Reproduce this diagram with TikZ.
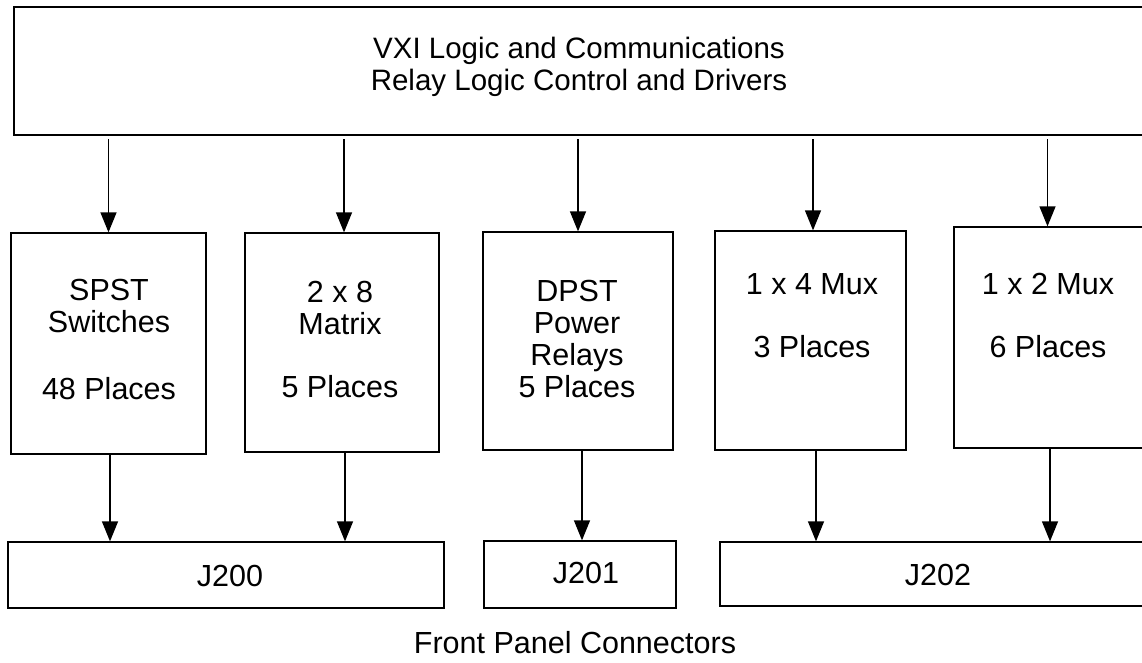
\documentclass[tikz,border=0pt]{standalone}
\usepackage{fontspec}
\setmainfont{Liberation Sans}
\usetikzlibrary{arrows.meta}
\begin{document}
\begin{tikzpicture}[x=1pt,y=-1pt,
  box/.style={draw, line width=1.3pt, inner sep=0pt},
  txt/.style={font=\fontsize{30.5}{32}\selectfont, align=center, inner sep=0pt},
  arr/.style={line width=1.3pt, -{Triangle[length=20pt,width=16pt]}}]
\useasboundingbox (0,0) rectangle (1142,662);
% boxes
\node[box, minimum width=1134pt, minimum height=128pt] (top) at (581,71) {};
\node[box, minimum width=195pt, minimum height=221pt] (spst) at (108.5,343.5) {};
\node[box, minimum width=194pt, minimum height=219pt] (mat) at (342,342.5) {};
\node[box, minimum width=190pt, minimum height=218pt] (dpst) at (578,341) {};
\node[box, minimum width=191pt, minimum height=219pt] (m4) at (810.5,340.5) {};
\node[box, minimum width=192pt, minimum height=221pt] (m2) at (1050,337.5) {};
\node[box, minimum width=436pt, minimum height=66pt] (j200) at (226,575) {};
\node[box, minimum width=192pt, minimum height=67pt] (j201) at (580,574.5) {};
\node[box, minimum width=428pt, minimum height=64pt] (j202) at (934,574) {};
% texts
\node[txt, font=\fontsize{29.5}{32}\selectfont, anchor=north] (topt) at (579,37) {VXI Logic and Communications\\Relay Logic Control and Drivers};
\node[txt, anchor=north] (spstt) at (109,279) {SPST\\Switches\\[35pt]48 Places};
\node[txt, anchor=north] (matt) at (340,281) {2 x 8\\Matrix\\[31pt]5 Places};
\node[txt, anchor=north] (dpstt) at (577,280) {DPST\\Power\\Relays\\5 Places};
\node[txt, anchor=north] (m4t) at (812,273) {1 x 4 Mux\\[31pt]3 Places};
\node[txt, anchor=north] (m2t) at (1048,273) {1 x 2 Mux\\[31pt]6 Places};
\node[txt, anchor=base] (j200t) at (230,586) {J200};
\node[txt, anchor=base] (j201t) at (586,583) {J201};
\node[txt, anchor=base] (j202t) at (938,585) {J202};
\node[txt, anchor=base] (fpc) at (575,653) {Front Panel Connectors};
% arrows from top
\draw[arr, shorten <=3.5pt] (top.south -| spst.north) -- (spst.north);
\draw[arr, shorten <=3.5pt] ([xshift=2pt]top.south -| mat.north) -- ([xshift=2pt]mat.north);
\draw[arr, shorten <=3.5pt] (top.south -| dpst.north) -- (dpst.north);
\draw[arr, shorten <=3.5pt] ([xshift=2.5pt]top.south -| m4.north) -- ([xshift=2.5pt]m4.north);
\draw[arr, shorten <=3.5pt] ([xshift=-2.5pt]top.south -| m2.north) -- ([xshift=-2.5pt]m2.north);
% arrows to connectors
\draw[arr] ([xshift=1.5pt]spst.south) -- ([xshift=1.5pt]spst.south |- j200.north);
\draw[arr] ([xshift=3pt]mat.south) -- ([xshift=3pt]mat.south |- j200.north);
\draw[arr] ([xshift=4pt]dpst.south) -- ([xshift=4pt]dpst.south |- j201.north);
\draw[arr] ([xshift=5.5pt]m4.south) -- ([xshift=5.5pt]m4.south |- j202.north);
\draw[arr] (m2.south) -- (m2.south |- j202.north);
\end{tikzpicture}
\end{document}
